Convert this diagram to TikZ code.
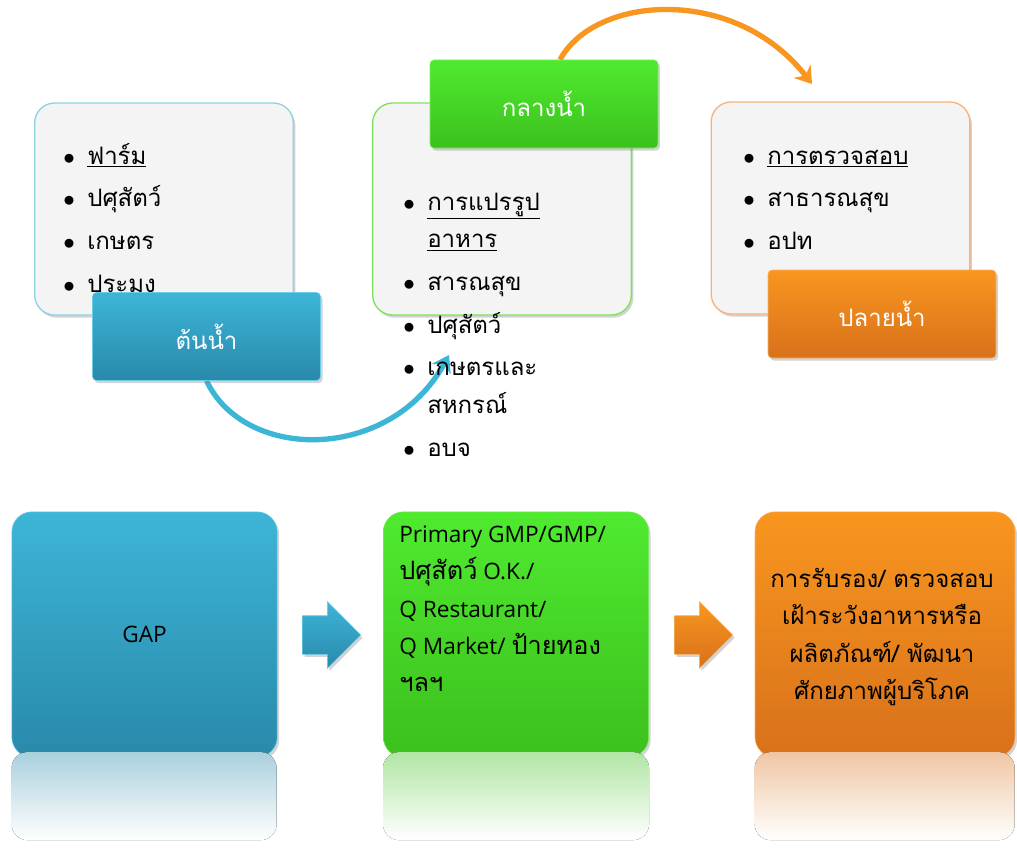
\documentclass[tikz,border=0pt]{standalone}
\usepackage{fontspec}
\setmainfont{Open Sans}
\newfontfamily\thai[Script=Thai]{Loma}
\usetikzlibrary{arrows.meta,shadows,shapes.arrows,backgrounds}

\definecolor{boxgray}{HTML}{F4F4F4}
\definecolor{blueTop}{HTML}{3DB5D7}
\definecolor{blueBot}{HTML}{2989AB}
\definecolor{blueEdge}{HTML}{6CCDE6}
\definecolor{blueLine}{HTML}{8FD2E4}
\definecolor{greenTop}{HTML}{4FEA30}
\definecolor{greenBot}{HTML}{3CC01D}
\definecolor{greenEdge}{HTML}{7CEB5E}
\definecolor{greenLine}{HTML}{7EE25E}
\definecolor{orangeTop}{HTML}{F8961F}
\definecolor{orangeBot}{HTML}{D8711B}
\definecolor{orangeEdge}{HTML}{F9B366}
\definecolor{orangeLine}{HTML}{F8B27C}

\newcommand{\listfont}{\thai\fontsize{18}{32}\selectfont}
\newcommand{\bigthai}{\thai\fontsize{19}{28}\selectfont}
\newcommand{\itm}{\makebox[18pt][l]{$\bullet$}}

\tikzset{
  softshadow/.style={drop shadow={opacity=0.35,shadow xshift=1.5pt,shadow yshift=-2pt}},
  listbox/.style={draw=#1,line width=1pt,fill=boxgray,rounded corners=15pt,
    minimum width=194pt,minimum height=159pt,softshadow},
  tab/.style={rounded corners=3pt,minimum width=171pt,minimum height=66pt,
    text=white,font=\listfont,softshadow},
  bigbox/.style={rounded corners=15pt,minimum width=199pt,minimum height=184pt,
    font=\fontsize{17}{28}\selectfont,softshadow},
  blockarrow/.style={single arrow,single arrow head extend=10.5pt,inner xsep=0pt,
    inner ysep=14.25pt,minimum height=43.5pt,softshadow},
  blueshade/.style={top color=blueTop,bottom color=blueBot,draw=blueEdge},
  greenshade/.style={top color=greenTop,bottom color=greenBot,draw=greenEdge},
  orangeshade/.style={top color=orangeTop,bottom color=orangeBot,draw=orangeEdge},
  curvearrow/.style={line width=4pt,-{Stealth[length=12pt,width=16pt]}}
}

\begin{document}
\begin{tikzpicture}[x=0.75pt,y=0.75pt,yscale=-1,xscale=1]
\useasboundingbox (0,0) rectangle (1017,849);

% list boxes
\node[listbox=blueLine] (list1) at (164,209) {};
\node[listbox=greenLine] (list2) at (502,209) {};
\node[listbox=orangeLine] (list3) at (840.5,208) {};

% list texts
\node[anchor=north west,inner sep=0pt] (items1) at (63,134) {\listfont
  \begin{tabular}{@{}l@{}}
  \itm\underline{ฟาร์ม}\\
  \itm ปศุสัตว์\\
  \itm เกษตร\\
  \itm ประมง
  \end{tabular}};
\node[anchor=north west,inner sep=0pt] (items2) at (403,180) {\listfont
  \begin{tabular}{@{}l@{}}
  \itm\underline{การแปรรูป}\\[-3.75pt]
  \hspace*{18pt}\underline{อาหาร}\\
  \itm สารณสุข\\
  \itm ปศุสัตว์\\
  \itm เกษตรและ\\[-3.75pt]
  \hspace*{18pt}สหกรณ์\\
  \itm อบจ
  \end{tabular}};
\node[anchor=north west,inner sep=0pt] (items3) at (743,134) {\listfont
  \begin{tabular}{@{}l@{}}
  \itm\underline{การตรวจสอบ}\\
  \itm สาธารณสุข\\
  \itm อปท
  \end{tabular}};

% tabs
\node[tab,blueshade] (tab1) at (206.5,336.5) {ต้นน้ำ};
\node[tab,greenshade] (tab2) at (544,104) {กลางน้ำ};
\node[tab,orangeshade] (tab3) at (882,314) {ปลายน้ำ};

\coordinate (blueEnd) at (449,355);
\coordinate (orangeEnd) at (812,84);

% curved arrows
\begin{scope}[on background layer]
\draw[curvearrow,blueTop] (tab1.south) .. controls (245,462) and (390,462) .. (blueEnd);
\draw[curvearrow,orangeTop] ([xshift=12pt]tab2.north) .. controls (595,-5) and (735,-15) .. (orangeEnd);
\end{scope}

% bottom row
\node[bigbox,blueshade] (box1) at (144.5,634.5) {GAP};
\node[bigbox,greenshade] (box2) at (516,634.5) {};
\node[bigbox,orangeshade,minimum width=195pt] (box3) at (885,634.5) {};

\node[anchor=north west,inner sep=0pt] (txt2) at (399,516) {\fontsize{17}{28}\selectfont
  \begin{tabular}{@{}l@{}}
  Primary GMP/GMP/\\
  {\bigthai ปศุสัตว์} O.K./\\
  Q Restaurant/\\
  Q Market/ {\bigthai ป้ายทอง}\\
  {\bigthai ฯลฯ}
  \end{tabular}};
\node[anchor=north,inner sep=0pt] (txt3) at (882,561) {\thai\fontsize{18}{28}\selectfont
  \begin{tabular}{@{}c@{}}
  การรับรอง/ ตรวจสอบ\\
  เฝ้าระวังอาหารหรือ\\
  ผลิตภัณฑ์/ พัฒนา\\
  ศักยภาพผู้บริโภค
  \end{tabular}};

\node[blockarrow,blueshade] (arrowA) at (322,635) {};
\node[blockarrow,orangeshade] (arrowB) at (694,635) {};

% reflections
\fill[rounded corners=12pt,top color=blueBot!40,bottom color=white] ([yshift=-4pt]box1.south west) rectangle ++(265,88);
\fill[rounded corners=12pt,top color=greenBot!40,bottom color=white] ([yshift=-4pt]box2.south west) rectangle ++(266,88);
\fill[rounded corners=12pt,top color=orangeBot!40,bottom color=white] ([yshift=-4pt]box3.south west) rectangle ++(260,88);

\end{tikzpicture}
\end{document}
